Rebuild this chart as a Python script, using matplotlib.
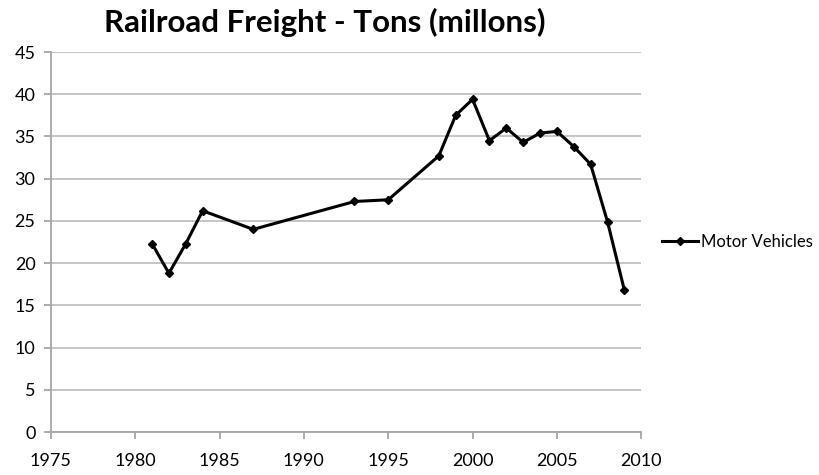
import matplotlib
matplotlib.use("Agg")
import matplotlib.pyplot as plt

years = [1981, 1982, 1983, 1984, 1987, 1993, 1995, 1998, 1999, 2000,
         2001, 2002, 2003, 2004, 2005, 2006, 2007, 2008, 2009]
tons = [22.3, 18.8, 22.3, 26.2, 24.0, 27.3, 27.5, 32.7, 37.5, 39.4,
        34.5, 36.0, 34.3, 35.4, 35.6, 33.8, 31.7, 24.9, 16.8]
series_name = "Motor Vehicles"
title = "Railroad Freight - Tons (millons)"
xticks = [1975, 1980, 1985, 1990, 1995, 2000, 2005, 2010]
yticks = list(range(0, 50, 5))

plt.rcParams['font.family'] = ['Lato', 'DejaVu Sans']

fig = plt.figure(figsize=(8.2, 4.75), dpi=100)
ax = fig.add_axes([0.062, 0.0905, 0.72, 0.80])

ax.plot(years, tons, color='black', linewidth=2.2, marker='D', markersize=4.5,
        label=series_name)

ax.set_xlim(1975, 2010)
ax.set_ylim(0, 45)
ax.set_xticks(xticks)
ax.set_yticks(yticks)
ax.yaxis.grid(True, color='#c0c0c0', linewidth=1.3)
ax.xaxis.grid(False)
ax.set_axisbelow(True)

for s in ['top', 'right']:
    ax.spines[s].set_visible(False)
for s in ['left', 'bottom']:
    ax.spines[s].set_color('#a6a6a6')
    ax.spines[s].set_linewidth(1.3)
ax.tick_params(axis='both', colors='#a6a6a6', length=5, width=1.3,
               labelcolor='black', labelsize=13)
ax.tick_params(axis='x', pad=10)
ax.tick_params(axis='y', pad=6)

fig.text(0.396, 0.952, title, ha='center', va='center', fontsize=22.5,
         fontweight='bold')

leg = ax.legend(loc='center left', bbox_to_anchor=(1.015, 0.50), frameon=False,
                fontsize=12, handlelength=2.2, handletextpad=0.15,
                borderaxespad=0.3)

fig.savefig('out.png', dpi=100)
